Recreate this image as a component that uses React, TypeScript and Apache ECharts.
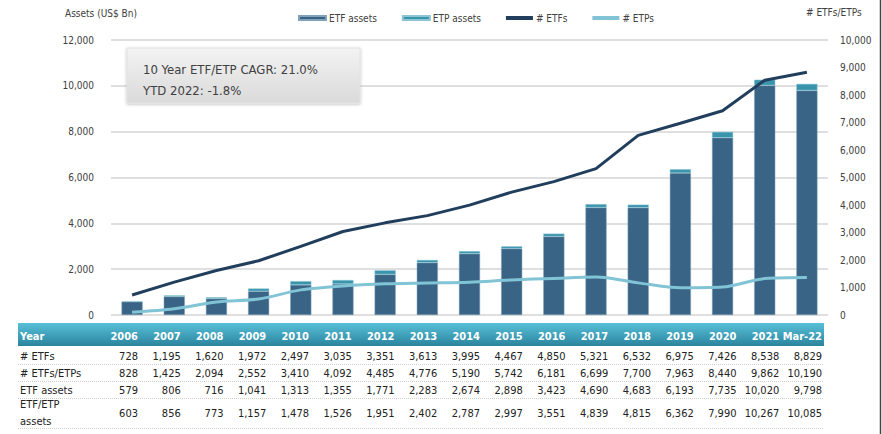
import React, { useEffect, useRef } from "react";
import * as echarts from "echarts";

const years = ["2006","2007","2008","2009","2010","2011","2012","2013","2014","2015","2016","2017","2018","2019","2020","2021","Mar-22"];
const etfCount = [728,1195,1620,1972,2497,3035,3351,3613,3995,4467,4850,5321,6532,6975,7426,8538,8829];
const etfEtpCount = [828,1425,2094,2552,3410,4092,4485,4776,5190,5742,6181,6699,7700,7963,8440,9862,10190];
const etfAssets = [579,806,716,1041,1313,1355,1771,2283,2674,2898,3423,4690,4683,6193,7735,10020,9798];
const etfEtpAssets = [603,856,773,1157,1478,1526,1951,2402,2787,2997,3551,4839,4815,6362,7990,10267,10085];
const etpCount = etfEtpCount.map((v, i) => v - etfCount[i]);
const etpAssets = etfEtpAssets.map((v, i) => v - etfAssets[i]);

const leftTicks = { min: 0, max: 12000, interval: 2000 };
const rightTicks = { min: 0, max: 10000, interval: 1000 };
const boxLines = ["10 Year ETF/ETP CAGR: 21.0%", "YTD 2022: -1.8%"];
const tableRows: { label: string[]; values: number[] }[] = [
  { label: ["# ETFs"], values: etfCount },
  { label: ["# ETFs/ETPs"], values: etfEtpCount },
  { label: ["ETF assets"], values: etfAssets },
  { label: ["ETF/ETP", "assets"], values: etfEtpAssets },
];

const FONT = "'DejaVu Sans Condensed', 'DejaVu Sans', sans-serif";
const fmt = (v: number) => v.toLocaleString("en-US");

export default function App() {
  const ref = useRef<HTMLDivElement>(null);
  useEffect(() => {
    if (!ref.current) return;
    const chart = echarts.init(ref.current, undefined, { renderer: "svg" });

    const graphics: any[] = [];
    graphics.push({ type: "text", left: 65, top: 8, style: { text: "Assets (US$ Bn)", font: `10px ${FONT}`, fill: "#404040" } });
    graphics.push({ type: "text", left: 806, top: 7, style: { text: "# ETFs/ETPs", font: `10px ${FONT}`, fill: "#404040" } });
    graphics.push({
      type: "rect",
      shape: { x: 127, y: 48, width: 233, height: 55 },
      style: {
        fill: new echarts.graphic.LinearGradient(0, 0, 0, 1, [
          { offset: 0, color: "#f3f3f3" },
          { offset: 1, color: "#dadada" },
        ]),
        stroke: "#e2e2e2",
        lineWidth: 1,
        shadowBlur: 3,
        shadowColor: "rgba(0,0,0,0.25)",
        shadowOffsetY: 1,
      },
      z: 10,
    });
    boxLines.forEach((t, i) => {
      graphics.push({
        type: "text",
        x: 143,
        y: 69 + i * 21,
        style: { text: t, font: `13px ${FONT}`, fill: "#404040", verticalAlign: "middle" },
        z: 11,
      });
    });
    graphics.push({
      type: "rect",
      shape: { x: 18, y: 323, width: 806, height: 23 },
      style: {
        fill: new echarts.graphic.LinearGradient(0, 0, 0, 1, [
          { offset: 0, color: "#58c0d8" },
          { offset: 1, color: "#2b849e" },
        ]),
      },
    });
    const colRight = (i: number) => 138 + i * 42.75;
    graphics.push({ type: "text", x: 20, y: 336, style: { text: "Year", font: `bold 11px ${FONT}`, fill: "#ffffff", verticalAlign: "middle" } });
    years.forEach((y, i) => {
      graphics.push({ type: "text", x: colRight(i), y: 336, style: { text: y, font: `bold 11px ${FONT}`, fill: "#ffffff", align: "right", verticalAlign: "middle" } });
    });
    const rowY = [356, 373, 390, 413];
    const sepY = [364.5, 381.5, 398.5, 428.5];
    tableRows.forEach((row, r) => {
      if (row.label.length === 1) {
        graphics.push({ type: "text", x: 20, y: rowY[r], style: { text: row.label[0], font: `11px ${FONT}`, fill: "#222", verticalAlign: "middle" } });
      } else {
        graphics.push({ type: "text", x: 20, y: rowY[r] - 9, style: { text: row.label[0], font: `11px ${FONT}`, fill: "#222", verticalAlign: "middle" } });
        graphics.push({ type: "text", x: 20, y: rowY[r] + 8, style: { text: row.label[1], font: `11px ${FONT}`, fill: "#222", verticalAlign: "middle" } });
      }
      row.values.forEach((v, i) => {
        graphics.push({ type: "text", x: colRight(i), y: rowY[r], style: { text: fmt(v), font: `11px ${FONT}`, fill: "#222", align: "right", verticalAlign: "middle" } });
      });
      graphics.push({
        type: "line",
        shape: { x1: 18, y1: sepY[r], x2: 824, y2: sepY[r] },
        style: { stroke: "#cfcfcf", lineWidth: 1, lineDash: [1, 1] },
      });
    });
    graphics.push({ type: "line", shape: { x1: 880.5, y1: 0, x2: 880.5, y2: 434 }, style: { stroke: "#444", lineWidth: 1.5 } });

    chart.setOption({
      animation: false,
      backgroundColor: "#ffffff",
      textStyle: { fontFamily: FONT },
      grid: { left: 111, right: 54, top: 40, bottom: 119, containLabel: false },
      legend: {
        left: 293,
        top: 8,
        itemWidth: 27,
        itemHeight: 4,
        itemGap: 25,
        textStyle: { fontSize: 10, color: "#404040", fontFamily: FONT, padding: [0, 0, 0, -2] },
        data: [
          { name: "ETF assets", icon: "rect" },
          { name: "ETP assets", icon: "rect" },
          { name: "# ETFs", icon: "rect" },
          { name: "# ETPs", icon: "rect" },
        ],
      },
      xAxis: {
        type: "category",
        data: years,
        axisLine: { show: false },
        axisTick: { show: false },
        axisLabel: { show: false },
      },
      yAxis: [
        {
          type: "value",
          ...leftTicks,
          position: "left",
          axisLine: { show: false },
          axisTick: { show: false },
          axisLabel: { formatter: (v: number) => fmt(v), fontSize: 10, color: "#404040", margin: 17 },
          splitLine: { lineStyle: { color: "#d4d4d4", width: 1.5 } },
        },
        {
          type: "value",
          ...rightTicks,
          position: "right",
          axisLine: { show: false },
          axisTick: { show: false },
          axisLabel: { formatter: (v: number) => fmt(v), fontSize: 10, color: "#404040", margin: 12 },
          splitLine: { show: false },
        },
      ],
      series: [
        {
          name: "ETF assets",
          type: "bar",
          stack: "assets",
          barWidth: "50%",
          data: etfAssets,
          itemStyle: { color: "#3a6486", borderColor: "#7fa3bb", borderWidth: 0.5 },
        },
        {
          name: "ETP assets",
          type: "bar",
          stack: "assets",
          barWidth: "50%",
          data: etpAssets,
          itemStyle: { color: "#3a94ac", borderColor: "#8cc6d6", borderWidth: 0.5 },
        },
        {
          name: "# ETFs",
          type: "line",
          yAxisIndex: 1,
          data: etfCount,
          symbol: "none",
          lineStyle: { color: "#213f5c", width: 3 },
          itemStyle: { color: "#213f5c" },
        },
        {
          name: "# ETPs",
          type: "line",
          yAxisIndex: 1,
          data: etpCount,
          symbol: "none",
          smooth: 0.3,
          lineStyle: { color: "#80c4d5", width: 3 },
          itemStyle: { color: "#80c4d5" },
        },
      ],
      graphic: graphics,
    });
    return () => chart.dispose();
  }, []);
  return (
    <div
      ref={ref}
      style={{ position: "fixed", left: 0, top: 0, width: 882, height: 434, background: "#fff" }}
    />
  );
}
